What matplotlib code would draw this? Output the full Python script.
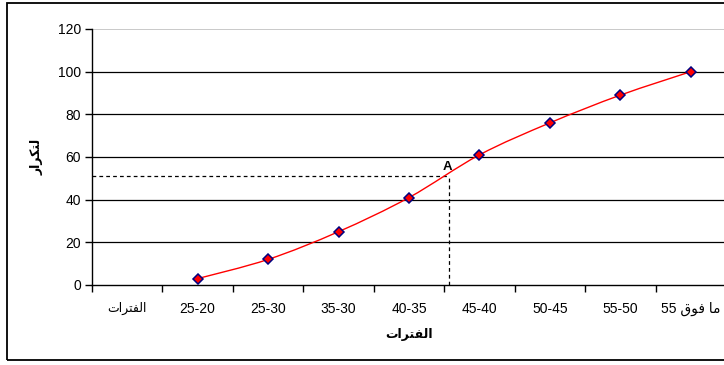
import matplotlib
matplotlib.use("Agg")
import matplotlib.pyplot as plt
import numpy as np
from matplotlib.path import Path
from matplotlib.patches import PathPatch, Rectangle

plt.rcParams['font.family'] = ['Liberation Sans', 'DejaVu Sans']

# Arabic strings written in visual order with contextual presentation forms
categories = ["\uFE95\uFE8D\uFEAE\uFE98\uFED4\uFEDF\uFE8D",  # الفترات
              "25-20", "25-30", "35-30", "40-35", "45-40", "50-45", "55-50",
              "55 \uFED5\uFEEE\uFED3 \uFE8E\uFEE3"]  # ما فوق 55
cum_freq = [None, 3, 12, 25, 41, 61, 76, 89, 100]
x_title = "\uFE95\uFE8D\uFEAE\uFE98\uFED4\uFEDF\uFE8D"   # الفترات
y_title = "\uFEAD\uFE8D\uFEAE\uFEDC\uFE98\uFEDF"         # لتكرار
a_value = 51
a_pos = 4.57

xs = np.array([i for i, v in enumerate(cum_freq) if v is not None], dtype=float)
ys = np.array([v for v in cum_freq if v is not None], dtype=float)

fig = plt.figure(figsize=(7.24, 3.65), dpi=100)
ax = fig.add_axes([92 / 724, 80 / 365, 634 / 724, 256 / 365])

# outer chart frame
fig.patches.append(Rectangle((7 / 724, 5 / 365), 0.999, 357 / 365, transform=fig.transFigure,
                             fill=False, edgecolor='black', lw=1.3))

ax.set_xlim(-0.5, 8.5)
ax.set_ylim(0, 120)

for g in [20, 40, 60, 80, 100]:
    ax.axhline(g, color='black', lw=0.9, zorder=1)
ax.axhline(120, color='#c0c0c0', lw=1.2, zorder=1)

# smoothed line (Catmull-Rom -> cubic Bezier)
pts = np.column_stack([xs, ys])
verts = [pts[0]]
codes = [Path.MOVETO]
n = len(pts)
for i in range(n - 1):
    p0 = pts[i - 1] if i > 0 else pts[i]
    p1 = pts[i]
    p2 = pts[i + 1]
    p3 = pts[i + 2] if i + 2 < n else pts[i + 1]
    c1 = p1 + (p2 - p0) / 6
    c2 = p2 - (p3 - p1) / 6
    verts += [c1, c2, p2]
    codes += [Path.CURVE4] * 3
ax.add_patch(PathPatch(Path(verts, codes), facecolor='none', edgecolor='red', lw=1.0, zorder=3))
ax.plot(xs, ys, linestyle='none', marker='D', markersize=5.5, markerfacecolor='red',
        markeredgecolor='#000080', markeredgewidth=1.1, zorder=4)

# reading of point A
ax.plot([-0.5, a_pos], [a_value, a_value], color='black', lw=0.9, dashes=(3, 2.5), zorder=2)
ax.plot([a_pos, a_pos], [0, a_value], color='black', lw=0.9, dashes=(3, 2.5), zorder=2)
ax.text(a_pos - 0.03, a_value + 4.5, "A", fontsize=9.5, fontweight='bold', ha='center', va='center')

for s in ['top', 'right']:
    ax.spines[s].set_visible(False)
for s in ['left', 'bottom']:
    ax.spines[s].set_linewidth(1.0)

ax.set_yticks(range(0, 121, 20))
ax.tick_params(axis='y', length=5, width=1, labelsize=10, pad=3)
ax.set_xticks(range(len(categories)))
ax.set_xticklabels(categories, fontsize=10)
ax.set_xticks(np.arange(-0.5, 8.6, 1), minor=True)
ax.tick_params(axis='x', which='major', length=0, pad=12)
ax.tick_params(axis='x', which='minor', length=5, width=1)
ax.get_xticklabels()[0].set_fontsize(9)

ax.set_xlabel(x_title, fontsize=9, fontweight='bold', labelpad=9)
ax.set_ylabel(y_title, fontsize=9, fontweight='bold', labelpad=10)

fig.savefig("out.png", dpi=100)
